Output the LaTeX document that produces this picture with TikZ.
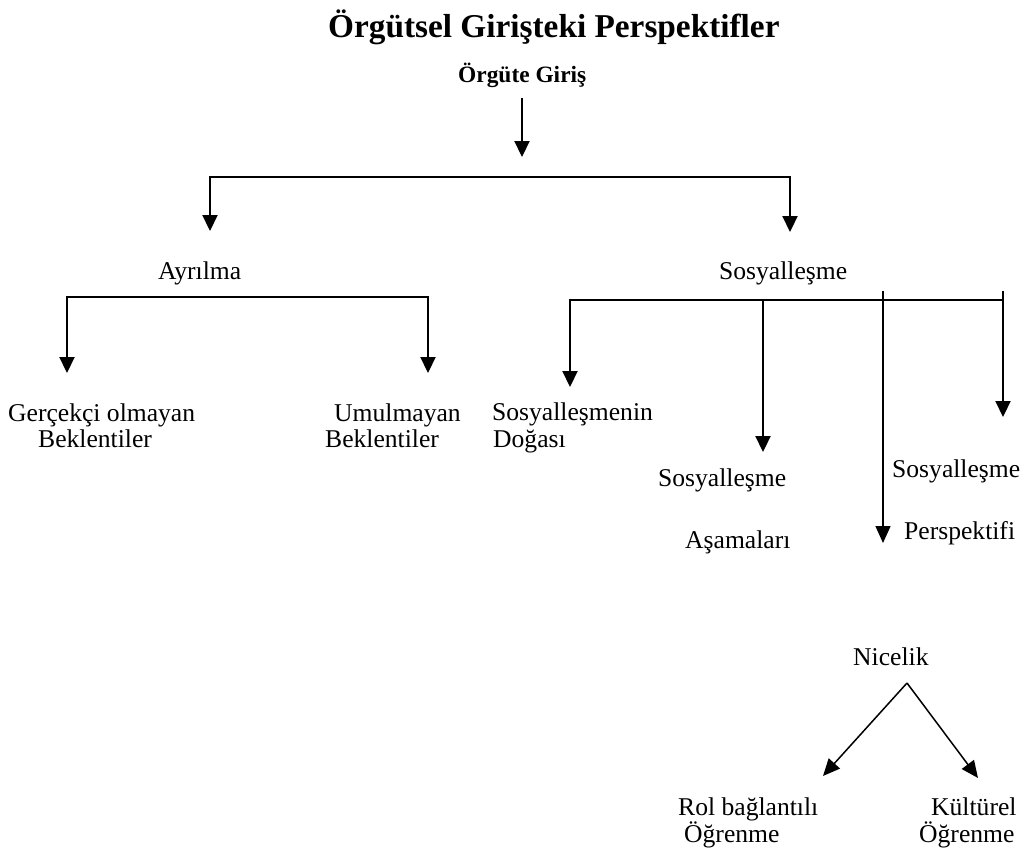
\documentclass[tikz,border=0pt]{standalone}
\usepackage{fontspec}
\setmainfont{Liberation Serif}
\usetikzlibrary{arrows.meta}
\begin{document}
\begin{tikzpicture}[x=1pt,y=-1pt,
  lbl/.style={inner sep=0pt, anchor=base west, font=\fontsize{25.6}{28}\selectfont},
  ttl/.style={inner sep=0pt, anchor=base west, font=\fontsize{33.3}{38}\selectfont\bfseries},
  sub/.style={inner sep=0pt, anchor=base west, font=\fontsize{23.4}{27}\selectfont\bfseries},
  con/.style={line width=2.2pt},
  tip/.tip={Triangle[length=16pt,width=15pt]},
  arr/.style={con, -tip},
  arrs/.style={con, tip-tip},
  thinline/.style={line width=1.5pt},
  tarr/.style={thinline, -{Triangle[length=17pt,width=15pt]}}]
\useasboundingbox (0,0) rectangle (1034,859);
% texts
\node[ttl] (title) at (328,38) {Örgütsel Girişteki Perspektifler};
\node[sub] (giris) at (458,82) {Örgüte Giriş};
\node[lbl] (ayr) at (158,279) {Ayrılma};
\node[lbl] (sos) at (719,279) {Sosyalleşme};
\node[lbl] (ger1) at (8,421) {Gerçekçi olmayan};
\node[lbl] (ger2) at (38,447) {Beklentiler};
\node[lbl] (umu1) at (334,421) {Umulmayan};
\node[lbl] (umu2) at (325,447) {Beklentiler};
\node[lbl] (dog1) at (492,420) {Sosyalleşmenin};
\node[lbl] (dog2) at (493,447) {Doğası};
\node[lbl] (asa1) at (658,486) {Sosyalleşme};
\node[lbl] (asa2) at (685,548) {Aşamaları};
\node[lbl] (per1) at (892,477) {Sosyalleşme};
\node[lbl] (per2) at (904,539) {Perspektifi};
\node[lbl] (nic) at (853,665) {Nicelik};
\node[lbl] (rol1) at (678,815) {Rol bağlantılı};
\node[lbl] (rol2) at (684,842) {Öğrenme};
\node[lbl] (kul1) at (931,815) {Kültürel};
\node[lbl] (kul2) at (919,842) {Öğrenme};
% coordinates
\coordinate (r0) at (522,98);
\coordinate (r1) at (522,157);
\coordinate (b0L) at (210,177);
\coordinate (b0R) at (790,177);
\coordinate (tAy) at (210,231);
\coordinate (tSo) at (790,232);
\coordinate (b1L) at (67,297);
\coordinate (b1R) at (428,297);
\coordinate (tGe) at (67,373);
\coordinate (tUm) at (428,373);
\coordinate (b2L) at (570,300);
\coordinate (b2R) at (1003,300);
\coordinate (b2M) at (763,300);
\coordinate (tDo) at (570,387);
\coordinate (tAs) at (763,452);
\coordinate (p0) at (1003,291);
\coordinate (tPe) at (1003,417);
\coordinate (n0) at (883,291);
\coordinate (tNi) at (883,543);
\coordinate (d0) at (907,683);
\coordinate (tRo) at (823,776);
\coordinate (tKu) at (978,778);
% connectors
\draw[arr] (r0) -- (r1);
\draw[arrs] (tAy) -- (b0L) -- (b0R) -- (tSo);
\draw[arrs] (tGe) -- (b1L) -- (b1R) -- (tUm);
\draw[con, tip-] (tDo) -- (b2L) -- (b2R);
\draw[arr] (b2M) -- (tAs);
\draw[arr] (p0) -- (tPe);
\draw[tarr] (n0) -- (tNi);
\draw[tarr] (d0) -- (tRo);
\draw[tarr] (d0) -- (tKu);
\end{tikzpicture}
\end{document}
